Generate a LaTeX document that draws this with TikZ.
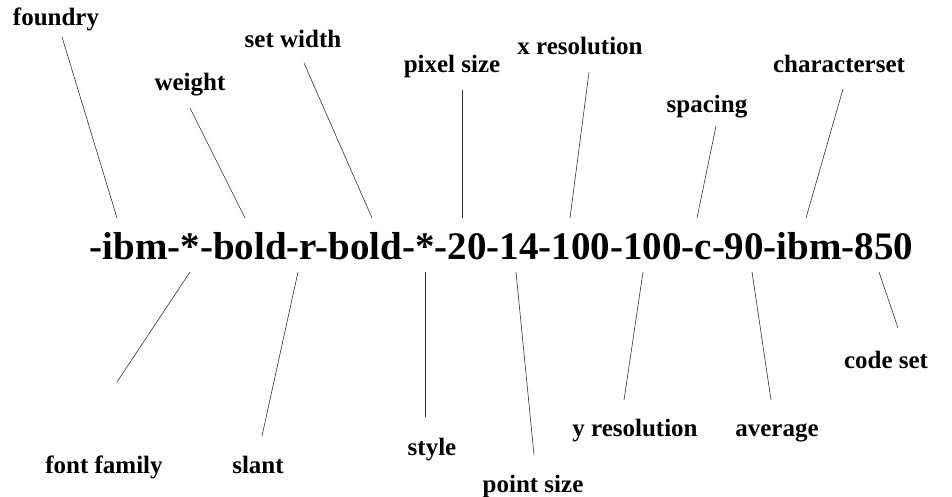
\documentclass[tikz,border=0pt]{standalone}
\usepackage{fontspec}
\setmainfont{Liberation Serif}
\begin{document}
\begin{tikzpicture}[x=1pt,y=-1pt,
  lbl/.style={anchor=base,inner sep=0pt,font=\fontsize{25}{25}\selectfont\bfseries},
  big/.style={anchor=base,inner sep=0pt,font=\fontsize{39}{39}\selectfont\bfseries},
  conn/.style={draw=black!80,line width=0.6pt}]
\useasboundingbox (0,0) rectangle (952,497);
\node[big] (xlfd) at (501.5,259) {-ibm-*-bold-r-bold-*-20-14-100-100-c-90-ibm-850};
% top labels
\node[lbl] (foundry) at (56,26) {foundry};
\node[lbl] (weight) at (190,91) {weight};
\node[lbl] (setwidth) at (293,48) {set width};
\node[lbl] (pixelsize) at (452,73) {pixel size};
\node[lbl] (xres) at (580,55) {x resolution};
\node[lbl] (spacing) at (707,113) {spacing};
\node[lbl] (charset) at (839,73) {characterset};
% bottom labels
\node[lbl] (family) at (104,473) {font family};
\node[lbl] (slant) at (258,473) {slant};
\node[lbl] (style) at (432,455) {style};
\node[lbl] (pointsize) at (533,492) {point size};
\node[lbl] (yres) at (635,436) {y resolution};
\node[lbl] (average) at (777,436) {average};
\node[lbl] (codeset) at (886,368) {code set};
% connector ends
\coordinate (foundry-a) at (62,37);   \coordinate (foundry-b) at (117,218);
\coordinate (weight-a) at (190,108);  \coordinate (weight-b) at (245,218);
\coordinate (setwidth-a) at (304,63); \coordinate (setwidth-b) at (372,218);
\coordinate (pixelsize-a) at (462,90);\coordinate (pixelsize-b) at (462,218);
\coordinate (xres-a) at (589,72);     \coordinate (xres-b) at (570,218);
\coordinate (spacing-a) at (716,126); \coordinate (spacing-b) at (697,218);
\coordinate (charset-a) at (843,89);  \coordinate (charset-b) at (806,218);
\coordinate (family-a) at (190,272);  \coordinate (family-b) at (117,382);
\coordinate (slant-a) at (298,272);   \coordinate (slant-b) at (262,436);
\coordinate (style-a) at (425,272);   \coordinate (style-b) at (425,417);
\coordinate (pointsize-a) at (516,272); \coordinate (pointsize-b) at (534,455);
\coordinate (yres-a) at (643,272);    \coordinate (yres-b) at (624,400);
\coordinate (average-a) at (752,272); \coordinate (average-b) at (771,400);
\coordinate (codeset-a) at (879,272); \coordinate (codeset-b) at (898,328);
\foreach \n in {foundry,weight,setwidth,pixelsize,xres,spacing,charset,family,slant,style,pointsize,yres,average,codeset}
  \draw[conn] (\n-a) -- (\n-b);
\end{tikzpicture}
\end{document}
